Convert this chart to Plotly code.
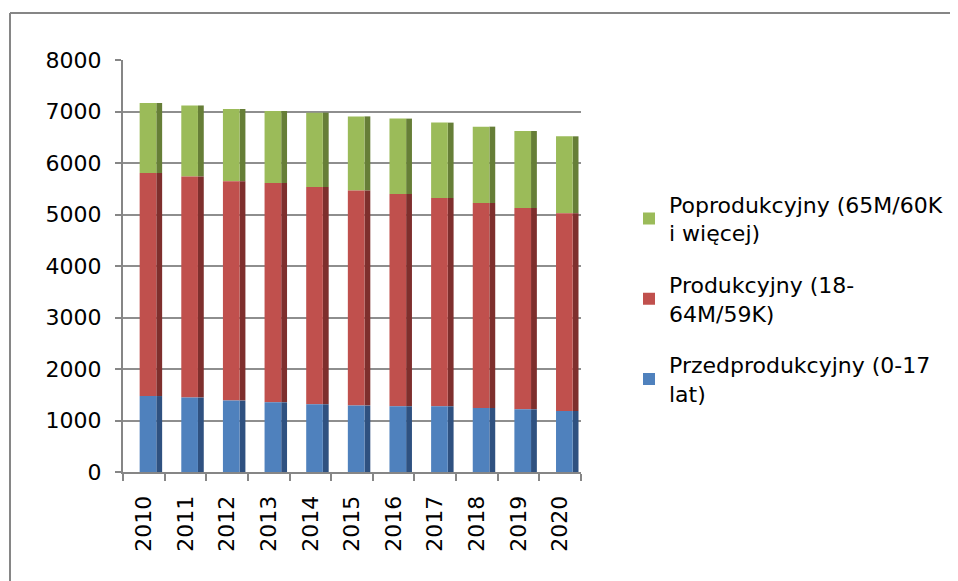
import plotly.graph_objects as go

years = ["2010", "2011", "2012", "2013", "2014", "2015", "2016", "2017", "2018", "2019", "2020"]
przed = [1475, 1445, 1386, 1353, 1315, 1289, 1276, 1276, 1243, 1217, 1184]
prod = [4331, 4293, 4259, 4259, 4219, 4177, 4122, 4044, 3980, 3909, 3839]
poprod = [1359, 1379, 1404, 1398, 1444, 1439, 1464, 1464, 1483, 1495, 1495]

series = [przed, prod, poprod]
names = [
    "Przedprodukcyjny (0-17<br>lat)",
    "Produkcyjny (18-<br>64M/59K)",
    "Poprodukcyjny (65M/60K<br>i więcej)",
]
front = ["#4F81BD", "#C0504D", "#9BBB59"]
side = ["#2F5180", "#7E2F2D", "#667E37"]

# page body has an 8px margin, so the figure is sized/offset for that
W, H = 950, 573
L, T = 115, 52
pw, ph = 458, 412
R, B = W - L - pw, H - T - ph

bases = []
base = [0] * len(years)
for vals in series:
    bases.append(base)
    base = [b + v for b, v in zip(base, vals)]

fig = go.Figure()
# top segment first so the legend lists it first
for i in [2, 1, 0]:
    # darker side face of the pseudo-3D column
    fig.add_trace(go.Bar(
        x=years, y=series[i], base=bases[i], width=0.14, offset=0.3,
        marker=dict(color=side[i], line_width=0),
        showlegend=False, hoverinfo="skip", legendgroup=str(i),
    ))
    fig.add_trace(go.Bar(
        x=years, y=series[i], base=bases[i], width=0.4, offset=-0.1,
        name=names[i], legendgroup=str(i),
        marker=dict(color=front[i], line_width=0),
    ))

# chart frame: only top and left edges are inside the picture
frame = dict(type="line", xref="paper", yref="paper",
             line=dict(color="#868686", width=2), layer="below")
fig.update_layout(
    width=W, height=H,
    barmode="overlay",
    paper_bgcolor="white", plot_bgcolor="white",
    margin=dict(l=L, r=R, t=T, b=B, autoexpand=False),
    font=dict(family="DejaVu Sans", size=22, color="black"),
    legend=dict(
        x=(621 - L) / pw, xanchor="left",
        y=0.42, yanchor="middle",
        traceorder="grouped", tracegroupgap=20,
        font=dict(size=22),
    ),
    shapes=[
        dict(frame, x0=(2 - L) / pw, x1=(W - L) / pw,
             y0=1 + (T - 5) / ph, y1=1 + (T - 5) / ph),
        dict(frame, x0=(2 - L) / pw, x1=(2 - L) / pw,
             y0=-(H - T - ph) / ph, y1=1 + (T - 5) / ph),
    ],
)
fig.update_xaxes(
    type="category", range=[-0.5, 10.5],
    showline=True, linecolor="#868686", linewidth=2,
    ticks="outside", tickson="boundaries", ticklen=7, tickcolor="#868686", tickwidth=2,
    tickangle=-90, ticklabelstandoff=13, showgrid=False,
)
fig.update_yaxes(
    range=[0, 8000], dtick=1000,
    showline=True, linecolor="#868686", linewidth=2,
    ticks="outside", ticklen=6, tickcolor="#868686", tickwidth=2,
    ticklabelstandoff=9,
    showgrid=True, gridcolor="#8E8E8E", gridwidth=2, zeroline=False,
)

fig.write_html("out.html", config={"displayModeBar": False})
